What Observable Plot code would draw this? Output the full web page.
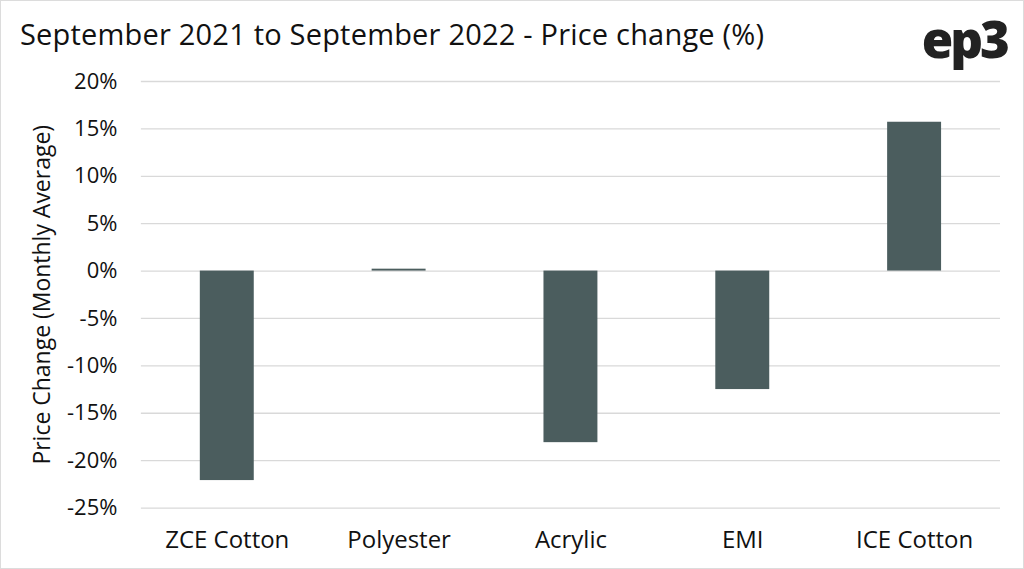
<!DOCTYPE html>
<html>
<head>
<meta charset="utf-8">
<script src="https://cdn.jsdelivr.net/npm/d3@7"></script>
<script src="https://cdn.jsdelivr.net/npm/@observablehq/plot@0.6"></script>
<style>
  html, body { margin: 0; padding: 0; background: #fff; }
  #wrap { position: relative; width: 1022px; height: 567px; border: 1px solid #dcdcdc; font-family: "Open Sans", sans-serif; overflow: hidden; }
  #title { position: absolute; left: 19px; top: 13px; font-size: 29px; line-height: 1.362; color: #111; white-space: nowrap; letter-spacing: 0.2px; }
  #logo { position: absolute; right: 16px; top: 3px; font-size: 51px; line-height: 1.362; font-weight: 800; color: #222; letter-spacing: -3px; }
  #chart { position: absolute; left: -1px; top: 63px; }
</style>
</head>
<body>
<div id="wrap">
  <div id="title">September 2021 to September 2022 - Price change (%)</div>
  <div id="logo">ep3</div>
  <div id="chart"></div>
</div>
<script>
const categories = ["ZCE Cotton", "Polyester", "Acrylic", "EMI", "ICE Cotton"];
const values = [-22.1, 0.2, -18.1, -12.5, 15.7];
const yTicks = [-25, -20, -15, -10, -5, 0, 5, 10, 15, 20];

const data = categories.map((c, i) => ({category: c, value: values[i]}));

const chart = Plot.plot({
  width: 1024,
  height: 505,
  marginLeft: 141,
  marginRight: 23,
  marginTop: 17,
  marginBottom: 61,
  style: {fontFamily: "'Open Sans', sans-serif", background: "transparent"},
  x: {domain: categories, paddingInner: 0.686, paddingOuter: 0.343, label: null},
  y: {domain: [-25, 20], label: null},
  marks: [
    Plot.gridY(yTicks, {stroke: "#d9d9d9", strokeOpacity: 1, strokeWidth: 1.3}),
    Plot.barY(data, {x: "category", y: "value", fill: "#4b5d5e"}),
    Plot.axisY({ticks: yTicks, tickFormat: d => d + "%", tickSize: 0, tickPadding: 24, fontSize: 22, fill: "#111"}),
    Plot.axisX({tickSize: 0, tickPadding: 23, fontSize: 24, fill: "#111"}),
    Plot.text(["Price Change (Monthly Average)"], {frameAnchor: "left", textAnchor: "middle", dx: -99, rotate: -90, fontSize: 23, fill: "#111"})
  ]
});
document.getElementById("chart").appendChild(chart);
</script>
</body>
</html>
